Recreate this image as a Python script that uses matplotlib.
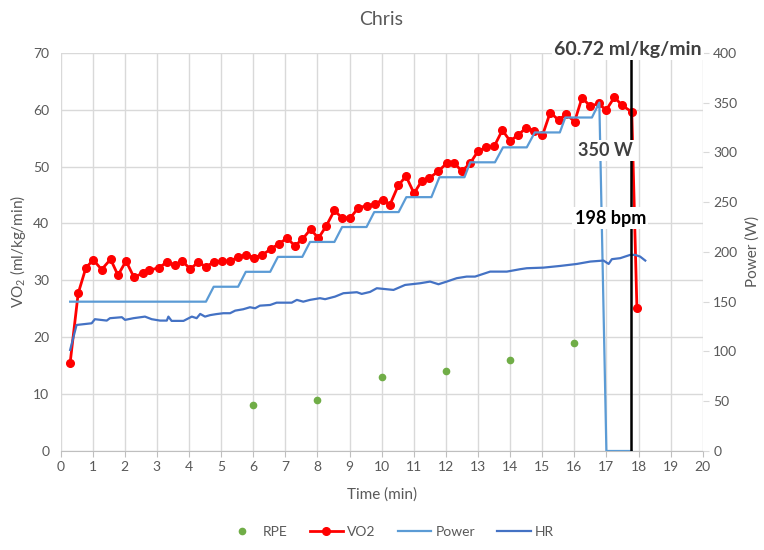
import numpy as np
import matplotlib.pyplot as plt

plt.rcParams['font.family'] = ['Lato', 'DejaVu Sans']
plt.rcParams['mathtext.default'] = 'regular'

# RPE (plotted on the VO2 axis)
rpe_t = [6, 8, 10, 12, 14, 16]
rpe = [8, 9, 13, 14, 16, 19]

# VO2 (ml/kg/min)
vo2_t = [0.30, 0.55, 0.79, 1.02, 1.28, 1.56, 1.79, 2.04, 2.29, 2.56, 2.77, 3.06,
         3.31, 3.55, 3.79, 4.04, 4.29, 4.52, 4.78, 5.03, 5.28, 5.54, 5.77, 6.03,
         6.29, 6.55, 6.79, 7.05, 7.30, 7.53, 7.79, 8.03, 8.27, 8.53, 8.76, 9.03,
         9.28, 9.54, 9.78, 10.04, 10.26, 10.52, 10.76, 11.01, 11.25, 11.49, 11.77,
         12.03, 12.26, 12.50, 12.76, 13.00, 13.26, 13.51, 13.76, 14.00, 14.24,
         14.50, 14.76, 15.01, 15.25, 15.51, 15.75, 16.01, 16.24, 16.50, 16.76,
         16.99, 17.25, 17.48, 17.79, 17.95]
vo2 = [15.5, 27.7, 32.2, 33.6, 31.9, 33.7, 30.9, 33.4, 30.5, 31.3, 31.8, 32.2,
       33.2, 32.7, 33.4, 32.0, 33.2, 32.4, 33.2, 33.4, 33.4, 34.1, 34.5, 34.0,
       34.5, 35.5, 36.4, 37.4, 36.1, 37.2, 39.0, 37.4, 39.5, 42.3, 41.0, 41.0,
       42.8, 43.1, 43.4, 44.2, 43.3, 46.7, 48.3, 45.3, 47.5, 48.0, 49.2,
       50.6, 50.6, 49.2, 50.6, 52.7, 53.4, 53.6, 56.4, 54.5, 55.5,
       56.8, 56.3, 55.5, 59.5, 58.2, 59.2, 57.9, 62.1, 60.6, 61.1,
       59.9, 62.2, 60.8, 59.6, 25.2]

# Power (W)
power_t = [0.30, 4.53, 4.77, 5.53, 5.77, 6.53, 6.77, 7.53, 7.77, 8.53, 8.77,
           9.53, 9.77, 10.53, 10.77, 11.55, 11.80, 12.58, 12.76, 13.53, 13.78,
           14.52, 14.77, 15.55, 15.72, 16.55, 16.78, 17.00, 17.79]
power_w = [150, 150, 165, 165, 180, 180, 195, 195, 210, 210, 225,
           225, 240, 240, 255, 255, 275, 275, 290, 290, 305,
           305, 320, 320, 335, 335, 350, 0, 0]

# HR (bpm)
hr_t = [0.30, 0.50, 0.97, 1.07, 1.44, 1.54, 1.91, 2.01, 2.27, 2.63, 2.84, 3.10,
        3.31, 3.36, 3.46, 3.83, 4.09, 4.24, 4.35, 4.50, 4.66, 4.85, 5.07, 5.28,
        5.44, 5.69, 5.90, 6.06, 6.21, 6.53, 6.73, 7.20, 7.36, 7.56, 7.77, 8.08,
        8.24, 8.55, 8.81, 9.23, 9.38, 9.64, 9.85, 10.37, 10.73, 11.20, 11.51,
        11.77, 12.03, 12.34, 12.65, 12.91, 13.38, 13.90, 14.31, 14.52, 15.04,
        15.56, 16.08, 16.50, 16.91, 17.07, 17.17, 17.43, 17.74, 17.90, 18.05,
        18.21]
hr = [101.5, 126.6, 128.3, 132.4, 131.0, 133.4, 134.4, 131.7, 133.4, 135.0,
      132.4, 131.0, 131.0, 135.0, 130.7, 130.7, 135.0, 133.4, 137.7, 135.0,
      136.5, 137.5, 138.4, 138.4, 141.0, 142.4, 144.4, 143.4, 146.0, 146.7,
      149.0, 149.0, 151.8, 150.0, 151.8, 153.5, 152.5, 155.1, 158.5, 159.5,
      157.8, 159.8, 163.5, 161.8, 166.8, 168.5, 170.2, 167.5, 170.2, 173.6,
      175.2, 175.2, 180.2, 180.2, 182.6, 183.6, 184.2, 185.9, 187.9, 190.3,
      191.3, 187.9, 192.7, 193.7, 197.0, 197.0, 195.3, 191.3]

peak_t = 17.76

txt = '#595959'
grid = '#D9D9D9'

fig = plt.figure(figsize=(7.64, 5.5), dpi=100)
ax = fig.add_axes([0.0792, 0.18, 0.8406, 0.724])
ax2 = ax.twinx()

ax.plot(rpe_t, rpe, 'o', color='#70AD47', ms=4.5, label='RPE', zorder=3)
ax.plot(vo2_t, vo2, '-o', color='#FF0000', lw=2.0, ms=5.5, label='VO2', zorder=4)
ax2.plot(power_t, power_w, color='#5B9BD5', lw=1.6, label='Power')
ax2.plot(hr_t, hr, color='#4472C4', lw=1.6, label='HR')
ax2.plot([peak_t, peak_t], [0, 400], color='black', lw=1.8, zorder=5)

ax.set_xlim(0, 20)
ax.set_ylim(0, 70)
ax2.set_ylim(0, 400)
ax.set_xticks(np.arange(0, 21, 1))
ax.set_yticks(np.arange(0, 71, 10))
ax2.set_yticks(np.arange(0, 401, 50))

ax.grid(True, color=grid, lw=1)
ax.set_axisbelow(True)
for a in (ax, ax2):
    for s in a.spines.values():
        s.set_visible(False)
ax.spines['bottom'].set_visible(True)
ax.spines['bottom'].set_color('#BFBFBF')
ax.tick_params(axis='x', colors='#BFBFBF', labelcolor=txt, labelsize=10, length=4)
ax.tick_params(axis='y', length=0, labelcolor=txt, labelsize=10, pad=8)
ax2.tick_params(axis='y', colors='#D9D9D9', labelcolor=txt, labelsize=10, length=4)

ax.set_xlabel('Time (min)', color=txt, fontsize=11, labelpad=10)
ax.set_ylabel('VO$_2$ (ml/kg/min)', color=txt, fontsize=11, labelpad=4)
ax2.set_ylabel('Power (W)', color=txt, fontsize=11, labelpad=6)
ax.set_title('Chris', color=txt, fontsize=14, pad=20)

box = dict(facecolor='white', edgecolor='none', pad=1.5)
ax2.text(17.68, 403, '60.72 ml/kg/min', ha='center', va='center', fontsize=14,
         fontweight='bold', color='#404040', bbox=box, zorder=10, clip_on=False)
ax2.text(16.98, 302, '350 W', ha='center', va='center', fontsize=13,
         fontweight='bold', color='#404040', bbox=box, zorder=10)
ax2.text(17.12, 234, '198 bpm', ha='center', va='center', fontsize=13,
         fontweight='bold', color='black', bbox=box, zorder=10)

h1, l1 = ax.get_legend_handles_labels()
h2, l2 = ax2.get_legend_handles_labels()
leg = fig.legend(h1 + h2, l1 + l2, loc='lower center', bbox_to_anchor=(0.51, 0.0),
                 ncol=4, frameon=False, fontsize=10, handlelength=2.4,
                 handletextpad=0.3, columnspacing=1.6)
for t in leg.get_texts():
    t.set_color(txt)

fig.savefig('out.png', dpi=100)
